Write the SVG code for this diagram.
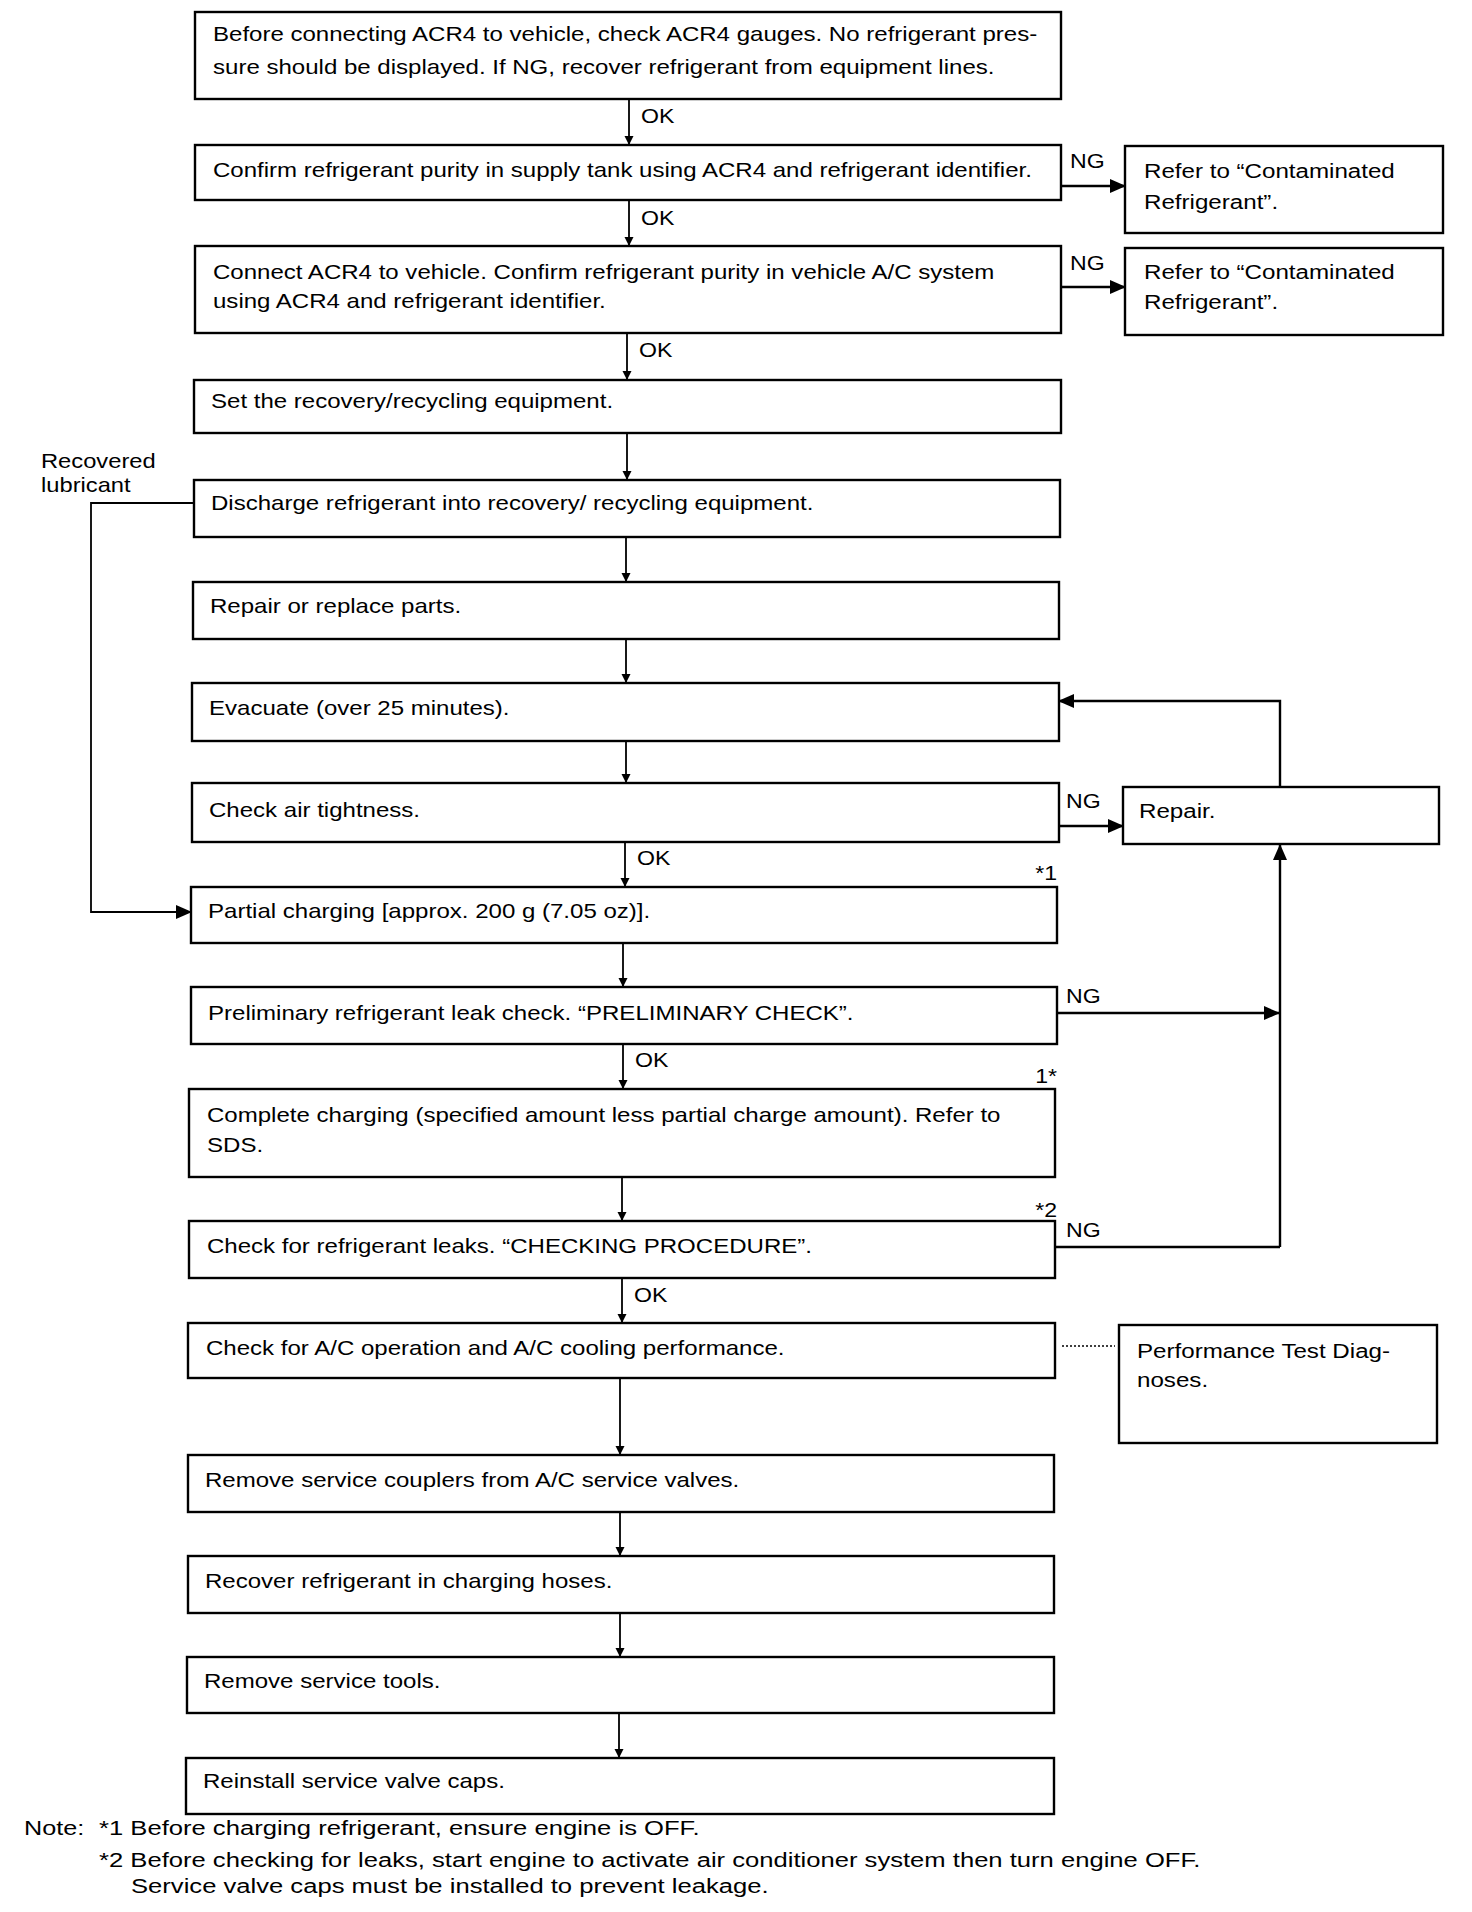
<svg xmlns="http://www.w3.org/2000/svg" width="1472" height="1912" viewBox="0 0 1472 1912">
<style>
.box{fill:#fff;stroke:#000;stroke-width:2.4}
.t{font-family:"Liberation Sans",Arial,sans-serif;font-size:21px;fill:#000}
.c{stroke:#000;stroke-width:1.8;fill:none}
.ng{stroke:#000;stroke-width:2.4;fill:none}
</style>
<defs>
<marker id="av" markerWidth="9" markerHeight="13" refX="9" refY="6.5" orient="auto" markerUnits="userSpaceOnUse" viewBox="0 0 9 13"><path d="M0,2 L9,6.5 L0,11 Z" fill="#000"/></marker>
<marker id="ah" markerWidth="16" markerHeight="14" refX="15" refY="7" orient="auto" markerUnits="userSpaceOnUse" viewBox="0 0 16 14"><path d="M0,0 L16,7 L0,14 Z" fill="#000"/></marker>
</defs>
<rect width="1472" height="1912" fill="#fff"/>

<g id="connectors">
<line class="c" x1="629" y1="99" x2="629" y2="145" marker-end="url(#av)"/>
<line class="c" x1="629" y1="200" x2="629" y2="246" marker-end="url(#av)"/>
<line class="c" x1="627" y1="333" x2="627" y2="380" marker-end="url(#av)"/>
<line class="c" x1="627" y1="433" x2="627" y2="480" marker-end="url(#av)"/>
<line class="c" x1="626" y1="537" x2="626" y2="582" marker-end="url(#av)"/>
<line class="c" x1="626" y1="639" x2="626" y2="683" marker-end="url(#av)"/>
<line class="c" x1="626" y1="741" x2="626" y2="783" marker-end="url(#av)"/>
<line class="c" x1="625" y1="842" x2="625" y2="887" marker-end="url(#av)"/>
<line class="c" x1="623" y1="943" x2="623" y2="987" marker-end="url(#av)"/>
<line class="c" x1="623" y1="1044" x2="623" y2="1089" marker-end="url(#av)"/>
<line class="c" x1="622" y1="1177" x2="622" y2="1221" marker-end="url(#av)"/>
<line class="c" x1="622" y1="1278" x2="622" y2="1323" marker-end="url(#av)"/>
<line class="c" x1="620" y1="1378" x2="620" y2="1455" marker-end="url(#av)"/>
<line class="c" x1="620" y1="1512" x2="620" y2="1556" marker-end="url(#av)"/>
<line class="c" x1="620" y1="1613" x2="620" y2="1657" marker-end="url(#av)"/>
<line class="c" x1="619" y1="1713" x2="619" y2="1758" marker-end="url(#av)"/>
<line class="ng" x1="1061" y1="186" x2="1125" y2="186" marker-end="url(#ah)"/>
<line class="ng" x1="1061" y1="287" x2="1125" y2="287" marker-end="url(#ah)"/>
<line class="ng" x1="1059" y1="826" x2="1123" y2="826" marker-end="url(#ah)"/>
<polyline class="ng" points="1280,787 1280,701 1059,701" marker-end="url(#ah)"/>
<line class="ng" x1="1280" y1="1247" x2="1280" y2="845" marker-end="url(#ah)"/>
<line class="ng" x1="1057" y1="1013" x2="1279" y2="1013" marker-end="url(#ah)"/>
<line class="ng" x1="1055" y1="1247" x2="1280" y2="1247"/>
<polyline class="c" points="194,503 91,503 91,912 191,912" marker-end="url(#ah)"/>
<line x1="1062" y1="1346" x2="1115" y2="1346" stroke="#000" stroke-width="1.5" stroke-dasharray="2,2"/>
</g>

<g id="n1"><rect class="box" x="195" y="12" width="866" height="87"/>
<text class="t" transform="translate(213,0) scale(1.145,1)" y="41">Before connecting ACR4 to vehicle, check ACR4 gauges. No refrigerant pres-</text>
<text class="t" transform="translate(213,0) scale(1.145,1)" y="74">sure should be displayed. If NG, recover refrigerant from equipment lines.</text></g>
<text class="t" transform="translate(641,0) scale(1.1,1)" y="123">OK</text>

<g id="n2"><rect class="box" x="195" y="145" width="866" height="55"/>
<text class="t" transform="translate(213,0) scale(1.145,1)" y="177">Confirm refrigerant purity in supply tank using ACR4 and refrigerant identifier.</text></g>
<text class="t" transform="translate(1070,0) scale(1.1,1)" y="168">NG</text>
<g id="n2b"><rect class="box" x="1125" y="146" width="318" height="87"/>
<text class="t" transform="translate(1144,0) scale(1.15,1)" y="178">Refer to “Contaminated</text>
<text class="t" transform="translate(1144,0) scale(1.15,1)" y="209">Refrigerant”.</text></g>
<text class="t" transform="translate(641,0) scale(1.1,1)" y="225">OK</text>

<g id="n3"><rect class="box" x="195" y="246" width="866" height="87"/>
<text class="t" transform="translate(213,0) scale(1.145,1)" y="279">Connect ACR4 to vehicle. Confirm refrigerant purity in vehicle A/C system</text>
<text class="t" transform="translate(213,0) scale(1.145,1)" y="308">using ACR4 and refrigerant identifier.</text></g>
<text class="t" transform="translate(1070,0) scale(1.1,1)" y="270">NG</text>
<g id="n3b"><rect class="box" x="1125" y="248" width="318" height="87"/>
<text class="t" transform="translate(1144,0) scale(1.15,1)" y="279">Refer to “Contaminated</text>
<text class="t" transform="translate(1144,0) scale(1.15,1)" y="309">Refrigerant”.</text></g>
<text class="t" transform="translate(639,0) scale(1.1,1)" y="357">OK</text>

<g id="n4"><rect class="box" x="194" y="380" width="867" height="53"/>
<text class="t" transform="translate(211,0) scale(1.145,1)" y="408">Set the recovery/recycling equipment.</text></g>

<text class="t" transform="translate(41,0) scale(1.13,1)" y="468">Recovered</text>
<text class="t" transform="translate(41,0) scale(1.13,1)" y="492">lubricant</text>

<g id="n5"><rect class="box" x="194" y="480" width="866" height="57"/>
<text class="t" transform="translate(211,0) scale(1.145,1)" y="510">Discharge refrigerant into recovery/ recycling equipment.</text></g>

<g id="n6"><rect class="box" x="193" y="582" width="866" height="57"/>
<text class="t" transform="translate(210,0) scale(1.145,1)" y="613">Repair or replace parts.</text></g>

<g id="n7"><rect class="box" x="192" y="683" width="867" height="58"/>
<text class="t" transform="translate(209,0) scale(1.145,1)" y="715">Evacuate (over 25 minutes).</text></g>

<g id="n8"><rect class="box" x="192" y="783" width="867" height="59"/>
<text class="t" transform="translate(209,0) scale(1.145,1)" y="817">Check air tightness.</text></g>
<text class="t" transform="translate(1066,0) scale(1.1,1)" y="808">NG</text>
<g id="n8b"><rect class="box" x="1123" y="787" width="316" height="57"/>
<text class="t" transform="translate(1139,0) scale(1.15,1)" y="818">Repair.</text></g>
<text class="t" transform="translate(637,0) scale(1.1,1)" y="865">OK</text>
<text class="t" transform="translate(1057,0) scale(1.1,1)" y="880" text-anchor="end">*1</text>

<g id="n9"><rect class="box" x="191" y="887" width="866" height="56"/>
<text class="t" transform="translate(208,0) scale(1.145,1)" y="918">Partial charging [approx. 200 g (7.05 oz)].</text></g>

<g id="n10"><rect class="box" x="191" y="987" width="866" height="57"/>
<text class="t" transform="translate(208,0) scale(1.145,1)" y="1020">Preliminary refrigerant leak check. “PRELIMINARY CHECK”.</text></g>
<text class="t" transform="translate(1066,0) scale(1.1,1)" y="1003">NG</text>
<text class="t" transform="translate(635,0) scale(1.1,1)" y="1067">OK</text>
<text class="t" transform="translate(1057,0) scale(1.1,1)" y="1083" text-anchor="end">1*</text>

<g id="n11"><rect class="box" x="189" y="1089" width="866" height="88"/>
<text class="t" transform="translate(207,0) scale(1.145,1)" y="1122">Complete charging (specified amount less partial charge amount). Refer to</text>
<text class="t" transform="translate(207,0) scale(1.145,1)" y="1152">SDS.</text></g>
<text class="t" transform="translate(1057,0) scale(1.1,1)" y="1217" text-anchor="end">*2</text>

<g id="n12"><rect class="box" x="189" y="1221" width="866" height="57"/>
<text class="t" transform="translate(207,0) scale(1.145,1)" y="1253">Check for refrigerant leaks. “CHECKING PROCEDURE”.</text></g>
<text class="t" transform="translate(1066,0) scale(1.1,1)" y="1237">NG</text>
<text class="t" transform="translate(634,0) scale(1.1,1)" y="1302">OK</text>

<g id="n13"><rect class="box" x="188" y="1323" width="867" height="55"/>
<text class="t" transform="translate(206,0) scale(1.145,1)" y="1355">Check for A/C operation and A/C cooling performance.</text></g>
<g id="n13b"><rect class="box" x="1119" y="1325" width="318" height="118"/>
<text class="t" transform="translate(1137,0) scale(1.15,1)" y="1358">Performance Test Diag-</text>
<text class="t" transform="translate(1137,0) scale(1.15,1)" y="1387">noses.</text></g>

<g id="n14"><rect class="box" x="188" y="1455" width="866" height="57"/>
<text class="t" transform="translate(205,0) scale(1.145,1)" y="1487">Remove service couplers from A/C service valves.</text></g>

<g id="n15"><rect class="box" x="188" y="1556" width="866" height="57"/>
<text class="t" transform="translate(205,0) scale(1.145,1)" y="1588">Recover refrigerant in charging hoses.</text></g>

<g id="n16"><rect class="box" x="187" y="1657" width="867" height="56"/>
<text class="t" transform="translate(204,0) scale(1.145,1)" y="1688">Remove service tools.</text></g>

<g id="n17"><rect class="box" x="186" y="1758" width="868" height="56"/>
<text class="t" transform="translate(203,0) scale(1.145,1)" y="1788">Reinstall service valve caps.</text></g>

<g id="notes">
<text class="t" transform="translate(24,0) scale(1.2,1)" y="1835">Note:</text>
<text class="t" transform="translate(99,0) scale(1.22,1)" y="1835">*1 Before charging refrigerant, ensure engine is OFF.</text>
<text class="t" transform="translate(99,0) scale(1.22,1)" y="1867">*2 Before checking for leaks, start engine to activate air conditioner system then turn engine OFF.</text>
<text class="t" transform="translate(131,0) scale(1.22,1)" y="1893">Service valve caps must be installed to prevent leakage.</text>
</g>
</svg>
